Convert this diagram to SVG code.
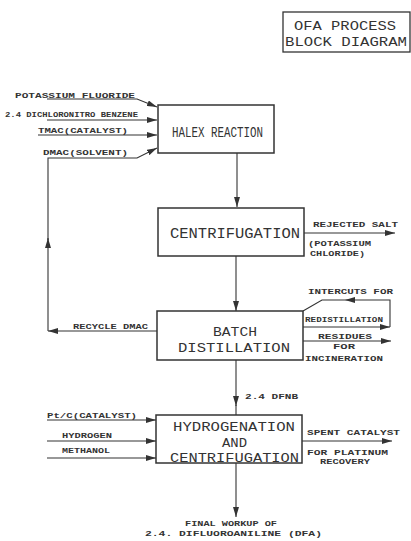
<svg xmlns="http://www.w3.org/2000/svg" width="411" height="541" viewBox="0 0 411 541">
<style>
.box{fill:#fff;stroke:#333;stroke-width:1.5}
.c{fill:none;stroke:#333;stroke-width:1.1}
.big{font-family:"Liberation Mono","DejaVu Sans Mono",monospace;font-size:14px;fill:#333}
.big2{font-family:"Liberation Mono","DejaVu Sans Mono",monospace;font-size:12px;fill:#333}
.sm{font-family:"Liberation Mono","DejaVu Sans Mono",monospace;font-size:8px;fill:#333;font-weight:bold}
.ttl{font-family:"Liberation Mono","DejaVu Sans Mono",monospace;font-size:13px;fill:#333}
</style>
<defs>
<marker id="ah" viewBox="0 0 10 6" refX="10" refY="3" markerWidth="10" markerHeight="6" markerUnits="userSpaceOnUse" orient="auto">
<path d="M0,0 L10,3 L0,6 Z" fill="#333"/>
</marker>
</defs>
<rect width="411" height="541" fill="#fff"/>

<g id="title">
<rect x="283" y="12" width="127" height="40" fill="none" stroke="#333" stroke-width="1.3"/>
<text class="ttl" x="294" y="30" textLength="102" lengthAdjust="spacingAndGlyphs">OFA PROCESS</text>
<text class="ttl" x="285" y="46" textLength="122" lengthAdjust="spacingAndGlyphs">BLOCK DIAGRAM</text>
</g>

<g id="connectors">
<path class="c" d="M47,99 H137 L157,107" marker-end="url(#ah)"/>
<path class="c" d="M47,120 H157" marker-end="url(#ah)"/>
<path class="c" d="M38,135 H157" marker-end="url(#ah)"/>
<path class="c" d="M48,240 V158 H137 L157,148" marker-end="url(#ah)"/>
<path class="c" d="M48,331 V238" marker-end="url(#ah)"/>
<path class="c" d="M157,331 H48" marker-end="url(#ah)"/>
<path class="c" d="M237,153 V207" marker-end="url(#ah)"/>
<path class="c" d="M304,233 H395" marker-end="url(#ah)"/>
<path class="c" d="M236,256 V311" marker-end="url(#ah)"/>
<path class="c" d="M303,327 H390" marker-end="url(#ah)"/>
<path class="c" d="M390,327 V300 H345" marker-end="url(#ah)"/>
<path class="c" d="M345,300 H322 L303,311"/>
<path class="c" d="M303,341 H391" marker-end="url(#ah)"/>
<path class="c" d="M236,360 V406" marker-end="url(#ah)"/>
<path class="c" d="M236,405 V415"/>
<path class="c" d="M47,420 H156" marker-end="url(#ah)"/>
<path class="c" d="M47,441 H156" marker-end="url(#ah)"/>
<path class="c" d="M47,458 H156" marker-end="url(#ah)"/>
<path class="c" d="M302,441 H392" marker-end="url(#ah)"/>
<path class="c" d="M236,463 V517" marker-end="url(#ah)"/>
</g>

<g id="labels">
<text class="sm" x="15" y="98" textLength="120" lengthAdjust="spacingAndGlyphs">POTASSIUM FLUORIDE</text>
<text class="sm" x="5" y="117" textLength="133" lengthAdjust="spacingAndGlyphs">2.4 DICHLORONITRO BENZENE</text>
<text class="sm" x="38" y="133" textLength="90" lengthAdjust="spacingAndGlyphs">TMAC(CATALYST)</text>
<text class="sm" x="43" y="155" textLength="85" lengthAdjust="spacingAndGlyphs">DMAC(SOLVENT)</text>
<text class="sm" x="313" y="227" textLength="85" lengthAdjust="spacingAndGlyphs">REJECTED SALT</text>
<text class="sm" x="308" y="246" textLength="63" lengthAdjust="spacingAndGlyphs">(POTASSIUM</text>
<text class="sm" x="310" y="256" textLength="55" lengthAdjust="spacingAndGlyphs">CHLORIDE)</text>
<text class="sm" x="73" y="329" textLength="75" lengthAdjust="spacingAndGlyphs">RECYCLE DMAC</text>
<text class="sm" x="308" y="294" textLength="85" lengthAdjust="spacingAndGlyphs">INTERCUTS FOR</text>
<text class="sm" x="305" y="322" textLength="78" lengthAdjust="spacingAndGlyphs">REDISTILLATION</text>
<text class="sm" x="318" y="339" textLength="54" lengthAdjust="spacingAndGlyphs">RESIDUES</text>
<text class="sm" x="333" y="349" textLength="22" lengthAdjust="spacingAndGlyphs">FOR</text>
<text class="sm" x="305" y="361" textLength="78" lengthAdjust="spacingAndGlyphs">INCINERATION</text>
<text class="sm" x="245" y="399" textLength="53" lengthAdjust="spacingAndGlyphs">2.4 DFNB</text>
<text class="sm" x="47" y="418" textLength="90" lengthAdjust="spacingAndGlyphs">Pt/C(CATALYST)</text>
<text class="sm" x="62" y="438" textLength="50" lengthAdjust="spacingAndGlyphs">HYDROGEN</text>
<text class="sm" x="62" y="453" textLength="48" lengthAdjust="spacingAndGlyphs">METHANOL</text>
<text class="sm" x="307" y="435" textLength="93" lengthAdjust="spacingAndGlyphs">SPENT CATALYST</text>
<text class="sm" x="307" y="455" textLength="81" lengthAdjust="spacingAndGlyphs">FOR PLATINUM</text>
<text class="sm" x="320" y="464" textLength="50" lengthAdjust="spacingAndGlyphs">RECOVERY</text>
<text class="sm" x="185" y="526" textLength="92" lengthAdjust="spacingAndGlyphs">FINAL WORKUP OF</text>
<text class="sm" x="145" y="536" textLength="177" lengthAdjust="spacingAndGlyphs">2.4. DIFLUOROANILINE (DFA)</text>
</g>

<g id="halex">
<rect class="box" x="158" y="105" width="116" height="48"/>
<text class="big" x="172" y="137" textLength="91" lengthAdjust="spacingAndGlyphs">HALEX REACTION</text>
</g>
<g id="centrifugation">
<rect class="box" x="158" y="208" width="146" height="48"/>
<text class="big" x="170" y="238" textLength="130" lengthAdjust="spacingAndGlyphs">CENTRIFUGATION</text>
</g>
<g id="batch">
<rect class="box" x="157" y="311" width="146" height="49"/>
<text class="big2" x="213" y="336" textLength="44" lengthAdjust="spacingAndGlyphs">BATCH</text>
<text class="big2" x="178" y="352" textLength="112" lengthAdjust="spacingAndGlyphs">DISTILLATION</text>
</g>
<g id="hydrogenation">
<rect class="box" x="156" y="415" width="146" height="48"/>
<text class="big2" x="173" y="431" textLength="122" lengthAdjust="spacingAndGlyphs">HYDROGENATION</text>
<text class="big2" x="222" y="447" textLength="25" lengthAdjust="spacingAndGlyphs">AND</text>
<text class="big2" x="170" y="462" textLength="129" lengthAdjust="spacingAndGlyphs">CENTRIFUGATION</text>
</g>
</svg>
